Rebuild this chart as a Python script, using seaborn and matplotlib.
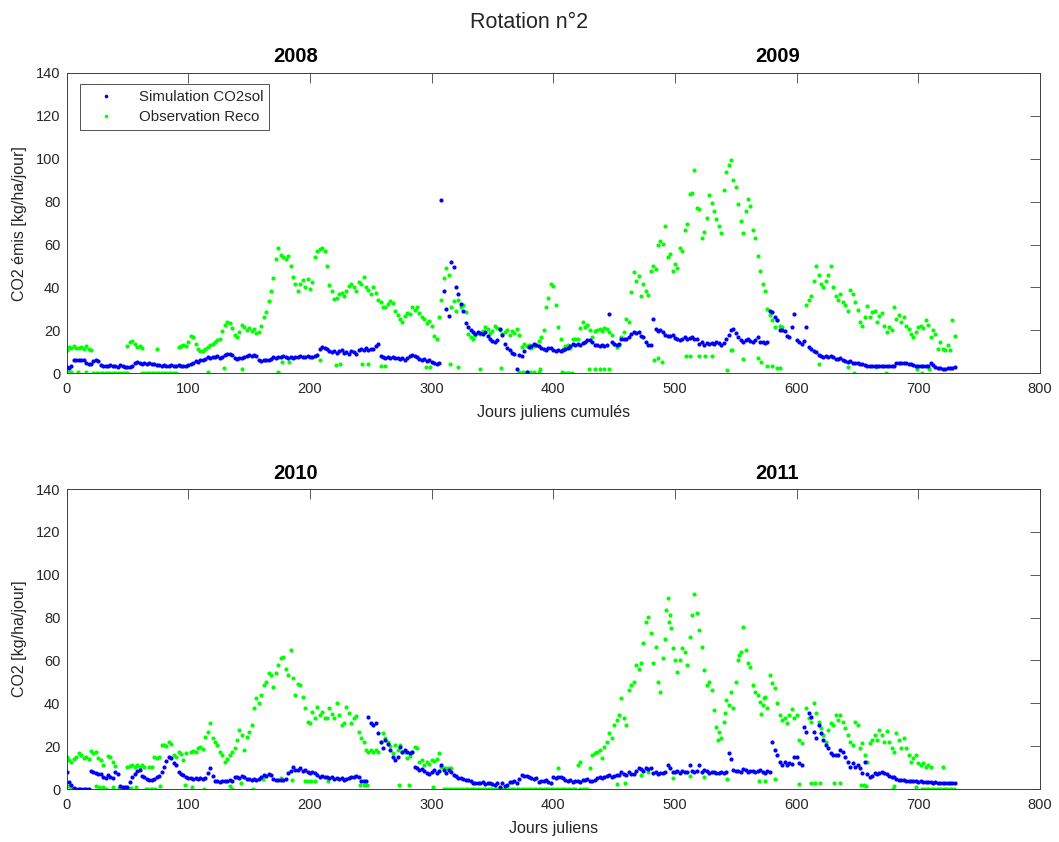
import numpy as np
import pandas as pd
import matplotlib
matplotlib.use("Agg")
import matplotlib.pyplot as plt
import seaborn as sns
from matplotlib.lines import Line2D

nan = np.nan

# ---------------------------------------------------------------------------
# Daily CO2 fluxes (kg/ha/jour), one value every 2 days from day 0 to day 730
# ---------------------------------------------------------------------------
sim_2008_2009 = [
    3.0, 2.5, 3.5, 6.2, 6.0, 6.4, 6.1, 6.3, 4.8, 4.2,
    4.5, 5.8, 6.2, 5.9, 3.8, 3.5, 3.2, 3.6, 3.9, 3.3,
    3.5, 3.0, 3.8, 3.2, 2.8, 3.1, 3.0, 3.4, 4.8, 5.2,
    5.0, 4.2, 4.6, 4.4, 4.8, 4.1, 4.5, 3.9, 3.7, 3.5,
    3.8, 3.4, 3.6, 4.0, 3.5, 3.3, 3.8, 3.6, 3.2, 3.5,
    3.7, 4.2, 4.8, 5.5, 5.2, 6.0, 6.4, 6.8, 7.5, 7.2,
    7.8, 7.4, 8.0, 7.2, 7.6, 8.4, 8.9, 9.1, 8.6, 7.0,
    6.8, 7.3, 6.9, 7.5, 8.2, 8.5, 8.0, 8.4, 8.1, 6.2,
    5.8, 6.1, 6.4, 6.0, 6.8, 7.6, 7.2, 7.8, 7.4, 7.9,
    7.5, 7.2, 7.8, 7.0, 7.6, 7.4, 8.0, 7.5, 7.8, 8.2,
    7.8, 7.5, 8.2, 8.6, 11.2, 12.3, 12.0, 11.5, 10.2, 9.8,
    10.4, 9.6, 10.2, 10.8, 9.5, 10.0, 9.2, 10.6, 9.8, 8.8,
    10.8, 11.4, 10.9, 11.6, 10.7, 11.5, 11.2, 12.6, 13.8, 8.2,
    7.6, 7.2, 7.8, 7.0, 7.4, 6.9, 7.2, 6.6, 7.0, 6.4,
    7.2, 8.0, 8.4, 8.1, 7.5, 6.8, 6.2, 6.6, 5.8, 6.3,
    5.4, 4.8, 4.3, 5.0, 80.7, 38.5, 30.0, 26.5, 52.0, 49.5,
    40.0, 37.0, 32.5, 29.0, 23.5, 21.5, 20.0, 19.0, 18.5, 19.2,
    18.8, 18.2, 19.0, 17.6, 16.0, 15.2, 14.6, 15.4, 20.7, 18.0,
    13.8, 12.0, 10.7, 9.6, 8.8, 2.0, 8.3, 8.0, 10.5, 0.6,
    12.2, 12.8, 13.8, 13.2, 12.6, 11.8, 11.4, 11.0, 11.6, 12.0,
    10.7, 10.5, 11.0, 10.2, 10.8, 11.2, 12.0, 12.6, 13.5, 13.0,
    13.8, 13.2, 14.0, 14.8, 15.3, 15.6, 14.8, 13.2, 13.0, 12.8,
    13.4, 12.9, 13.2, 27.5, 14.5, 13.8, 13.0, 13.6, 15.8, 16.2,
    16.0, 16.8, 18.2, 19.0, 18.6, 19.2, 17.4, 16.8, 14.5, 13.2,
    13.0, 25.5, 20.5, 19.8, 20.2, 19.0, 18.0, 17.6, 17.2, 18.0,
    16.4, 16.0, 15.6, 16.2, 16.8, 15.8, 16.4, 17.0, 16.2, 15.8,
    13.8, 14.5, 13.2, 14.0, 13.6, 14.2, 13.8, 14.6, 14.0, 13.2,
    14.2, 16.0, 18.0, 20.2, 20.7, 18.8, 16.8, 15.6, 14.8, 15.3,
    15.8, 15.0, 14.6, 15.4, 17.0, 14.8, 14.5, 14.2, 14.6, 29.0,
    28.4, 26.0, 24.6, 20.2, 20.0, 19.6, 17.4, 16.8, 21.5, 27.7,
    15.3, 14.6, 13.8, 15.0, 21.5, 12.2, 11.4, 10.6, 10.0, 8.6,
    8.0, 7.8, 8.2, 7.6, 7.9, 7.4, 6.8, 6.5, 6.9, 6.2,
    5.6, 5.2, 5.5, 4.8, 4.6, 5.0, 4.4, 4.5, 4.0, 3.6,
    3.3, 3.2, 3.4, 3.3, 3.5, 3.4, 3.2, 3.3, 3.4, 3.2,
    3.5, 4.6, 4.8, 4.9, 4.7, 4.8, 4.5, 4.2, 3.8, 3.6,
    3.4, 3.2, 3.6, 3.3, 3.5, 4.8, 3.8, 3.0, 2.6, 2.4,
    2.2, 2.2, 2.3, 2.4, 2.6, 2.8,
]

obs_2008_2009 = [
    11.0, 12.4, 11.8, 12.6, 12.0, 11.6, 12.2, 11.4, 12.8, 11.2,
    10.8, nan, nan, nan, nan, nan, nan, nan, nan, nan,
    nan, nan, nan, nan, nan, 12.5, 14.8, 15.2, 13.6, 12.4,
    12.8, 12.0, nan, nan, nan, nan, nan, 11.2, nan, nan,
    nan, nan, nan, nan, nan, nan, 12.4, 12.8, 13.4, 12.6,
    14.6, 17.2, 16.8, 13.8, 11.4, 10.6, 10.2, 11.2, 12.4, 13.0,
    13.8, 14.6, 15.4, 16.2, 19.5, 22.6, 24.0, 23.2, 21.0, 17.8,
    17.0, 19.0, 22.4, 21.5, 20.2, 21.0, 19.6, 20.4, 18.8, 19.4,
    22.0, 26.0, 28.6, 33.8, 38.2, 44.6, 53.2, 58.5, 55.0, 54.0,
    53.2, 54.6, 50.2, 45.0, 41.6, 38.4, 41.8, 43.6, 40.2, 44.0,
    39.5, 42.5, 54.0, 57.2, 57.8, 58.6, 57.0, 50.0, 41.2, 38.2,
    34.6, 35.2, 36.8, 37.5, 36.2, 38.4, 40.6, 41.6, 40.0, 38.4,
    42.4, 41.8, 45.0, 40.2, 38.6, 36.8, 40.0, 37.2, 34.0, 33.2,
    31.0, 30.8, 32.4, 33.6, 32.8, 29.2, 27.0, 25.4, 24.0, 26.6,
    28.0, 27.4, 30.8, 29.6, 31.0, 28.2, 26.0, 25.4, 23.2, 24.4,
    22.0, 17.2, 15.8, 26.0, 34.2, 44.6, 49.0, 46.0, 30.8, 33.6,
    29.0, 34.2, 31.0, 32.0, 28.4, 18.4, 17.0, 16.0, 17.8, 18.6,
    18.4, 19.6, 21.5, 20.4, 18.6, 19.8, 22.2, 21.0, 20.0, 18.4,
    19.2, 20.0, 18.0, 19.6, 18.6, 20.4, 17.8, 12.2, 13.8, 12.6,
    13.4, 12.0, 12.8, 13.0, 15.2, 17.0, 20.0, 30.8, 35.0, 41.6,
    40.8, 32.0, 21.5, 16.0, 11.4, 12.8, 13.0, 11.6, 15.8, 16.2,
    16.0, 21.0, 23.8, 21.5, 22.4, 20.0, 17.0, 19.6, 20.2, 20.7,
    19.8, 21.0, 20.4, 19.2, 18.0, 13.8, 12.2, 13.0, 17.0, 19.4,
    25.3, 24.0, 37.7, 47.0, 43.0, 45.2, 36.0, 41.6, 38.5, 36.6,
    47.7, 50.0, 48.6, 60.0, 61.7, 60.4, 68.6, 54.0, 55.5, 47.7,
    51.0, 49.0, 58.6, 57.0, 67.0, 69.4, 83.6, 84.0, 94.6, 77.0,
    76.4, 63.0, 66.0, 72.5, 83.0, 79.4, 75.6, 72.0, 68.6, 65.5,
    85.6, 94.0, 97.0, 99.5, 90.0, 87.0, 78.7, 71.0, 65.5, 75.6,
    81.0, 78.0, 67.0, 63.0, 54.7, 47.7, 41.6, 38.5, 30.0, 27.0,
    24.6, 21.5, 25.0, 22.0, 21.5, nan, nan, nan, nan, nan,
    nan, nan, nan, nan, 32.0, 34.0, 36.0, 43.0, 50.0, 46.0,
    41.6, 40.0, 43.0, 46.0, 50.0, 40.0, 36.0, 34.0, 37.0, 33.0,
    32.0, 29.0, 39.0, 37.0, 33.0, 29.5, 23.8, 22.0, 26.0, 31.5,
    26.0, 28.4, 29.0, 23.8, 26.5, 28.0, 22.0, 19.0, 21.5, 20.0,
    30.8, 25.3, 27.0, 24.0, 26.0, 22.0, 20.7, 18.4, 17.0, 19.0,
    21.5, 22.0, 21.0, 25.0, 22.4, 17.0, 20.0, 18.4, 11.5, 14.5,
    11.5, 10.7, 13.0, 10.7, 24.6, 17.6,
]

# Observations lying off the main trend (day, value)
obs_isolated_2008_2009 = [
    (1, 0.6), (4, 0.6), (9, 0.6), (16, 0.6),
    (22, 0.2), (24, 0.2), (26, 0.2), (28, 0.2), (30, 0.2), (32, 0.2), (34, 0.2), (36, 0.2),
    (38, 0.2), (40, 0.2), (42, 0.2), (44, 0.2), (46, 0.2), (48, 0.2), (50, 0.2),
    (62, 0.2), (64, 0.2), (66, 0.2), (68, 0.2), (70, 0.2), (72, 0.2), (74, 0.2), (76, 0.2),
    (78, 0.2), (80, 0.2), (82, 0.2), (84, 0.2), (86, 0.2), (88, 0.2), (90, 0.2),
    (116, 0.6), (129, 2.5), (144, 1.9), (174, 0.6), (177, 5.3), (183, 5.3),
    (208, 6.0), (221, 3.7), (225, 4.2), (243, 4.5), (248, 4.5), (258, 3.2), (262, 3.2),
    (295, 2.9), (299, 2.9), (315, 4.2), (322, 2.9), (340, 2.2), (357, 2.5),
    (372, 0.6), (375, 0.6), (378, 0.6), (381, 0.6), (384, 0.6), (388, 0.6), (389, 1.8),
    (407, 0.5), (409, 0.3), (411, 0.3), (413, 0.3), (415, 0.3),
    (429, 2.0), (434, 2.0), (438, 2.0), (442, 2.0), (446, 2.0),
    (483, 6.0), (486, 7.2), (489, 5.2), (509, 8.0), (512, 8.0), (520, 8.0), (525, 8.0),
    (530, 8.0), (543, 1.4), (546, 10.7), (547, 10.7), (556, 6.6), (568, 7.2), (571, 5.2),
    (576, 3.4), (580, 3.4), (584, 2.6), (586, 2.5), (618, 4.5), (642, 2.9), (647, 0.3),
    (665, 2.9), (673, 0.3), (699, 1.8), (703, 0.3), (709, 2.2),
]

sim_2010_2011 = [
    8.0, 3.4, 1.8, 0.6, 0.1, 0.0, 0.1, 0.0, 0.0, 0.1,
    8.4, 8.0, 7.4, 7.0, 6.8, 5.6, 5.0, 6.5, 5.8, 5.0,
    8.0, 7.0, 1.2, 1.0, 1.1, 0.9, 3.4, 5.5, 6.8, 8.6,
    8.9, 6.0, 5.7, 4.6, 4.2, 4.0, 4.8, 5.6, 6.0, 8.0,
    10.4, 13.2, 15.0, 14.3, 12.0, 11.0, 8.0, 7.0, 6.5, 5.7,
    5.2, 5.0, 4.8, 5.2, 4.6, 5.0, 4.7, 5.3, 7.3, 9.6,
    6.0, 3.8, 3.7, 3.5, 3.8, 3.6, 3.9, 4.2, 3.8, 5.4,
    5.7, 5.2, 6.0, 5.6, 4.8, 4.5, 4.3, 4.6, 4.2, 4.5,
    5.6, 6.5, 6.2, 6.8, 6.4, 4.6, 4.2, 4.0, 4.4, 4.2,
    4.6, 7.3, 8.6, 10.4, 9.0, 8.9, 9.6, 8.4, 9.0, 8.0,
    7.6, 8.0, 7.3, 6.5, 5.8, 6.2, 5.7, 5.4, 5.0, 5.6,
    4.8, 5.2, 4.6, 5.0, 4.4, 4.7, 5.2, 5.7, 5.4, 6.0,
    5.4, 3.8, 3.6, 3.7, 33.7, 30.6, 29.8, 30.8, 26.0, 22.0,
    19.0, 22.8, 21.0, 18.0, 15.0, 13.5, 15.0, 19.7, 17.4, 18.2,
    17.4, 16.6, 17.4, 10.4, 9.6, 8.9, 9.4, 8.6, 7.3, 7.0,
    7.8, 8.9, 7.6, 8.4, 11.2, 9.0, 7.3, 8.9, 7.8, 6.5,
    6.2, 5.3, 5.0, 4.6, 4.2, 4.4, 3.6, 3.0, 2.6, 2.8,
    2.6, 3.2, 2.4, 2.8, 3.0, 2.5, 1.9, 2.6, 1.1, 3.0,
    1.6, 2.0, 3.4, 3.2, 3.6, 3.0, 4.8, 6.5, 6.0, 6.2,
    5.4, 5.0, 4.6, 5.0, 3.4, 3.8, 3.6, 4.2, 3.4, 3.0,
    5.7, 5.0, 5.4, 5.7, 5.0, 4.2, 3.8, 4.0, 3.4, 3.6,
    3.8, 3.4, 4.0, 4.2, 4.8, 3.6, 3.8, 4.4, 5.0, 5.4,
    5.0, 5.8, 6.2, 6.5, 5.8, 6.0, 6.4, 6.5, 8.0, 7.0,
    6.5, 8.0, 7.2, 6.8, 8.4, 9.6, 9.2, 8.6, 9.8, 9.4,
    9.6, 7.3, 7.8, 7.0, 7.5, 7.3, 8.0, 11.2, 10.0, 8.0,
    8.0, 8.4, 7.6, 8.2, 7.8, 8.0, 11.2, 8.5, 8.0, 8.6,
    11.2, 8.0, 9.0, 8.2, 7.3, 8.0, 7.8, 7.3, 7.6, 8.0,
    7.3, 7.8, 16.6, 14.0, 8.9, 8.2, 8.6, 8.0, 9.2, 8.9,
    8.0, 8.6, 8.2, 7.8, 8.5, 8.9, 8.0, 7.6, 8.4, 8.0,
    22.0, 18.2, 15.9, 12.7, 11.2, 12.7, 11.2, 12.0, 11.6, 15.0,
    15.0, 12.0, 11.2, 29.0, 26.7, 35.3, 33.7, 26.7, 23.6, 29.8,
    26.0, 22.8, 20.5, 19.0, 16.6, 15.9, 16.0, 15.9, 18.2, 17.4,
    15.0, 12.7, 10.4, 12.0, 10.4, 11.0, 10.0, 7.3, 12.7, 7.0,
    5.7, 6.0, 7.3, 6.8, 7.3, 8.0, 7.6, 7.0, 6.0, 5.7,
    5.4, 4.8, 4.2, 4.4, 4.0, 3.7, 3.8, 3.6, 3.7, 3.8,
    3.4, 3.6, 3.4, 3.2, 3.4, 3.3, 3.0, 3.2, 2.8, 2.6,
    2.6, 3.0, 2.8, 3.0, 2.8, 2.6,
]

obs_2010_2011 = [
    15.0, 13.5, 12.7, 13.8, 15.0, 16.6, 16.0, 14.3, 14.8, 13.8,
    17.9, 16.8, 17.4, 14.3, 13.6, 11.2, nan, 15.5, 15.0, 12.7,
    10.9, nan, nan, nan, nan, 10.4, 10.8, 11.2, 10.4, 11.0,
    10.4, 11.2, 10.4, nan, 10.4, 10.4, 15.0, 14.6, 15.0, 20.5,
    20.5, 20.0, 22.0, 21.2, 15.9, 15.0, 17.4, 16.4, 13.5, 17.0,
    nan, 17.4, 17.8, 17.4, 19.0, 19.6, 18.6, 24.4, 26.7, 30.6,
    23.6, 22.0, 20.5, 17.4, 16.0, 12.7, 13.8, 15.9, 17.4, 19.0,
    22.8, 27.5, 25.0, 18.0, 24.4, 26.7, 30.0, 37.6, 42.3, 40.0,
    44.0, 48.5, 50.0, 54.0, 53.0, 47.7, 54.0, 58.0, 61.0, 61.7,
    56.0, 53.0, 64.8, 52.0, 43.8, 49.0, 48.5, 43.0, 37.6, 31.4,
    30.6, 36.0, 33.0, 38.4, 34.5, 36.0, 33.0, 33.0, 37.6, 35.2,
    33.0, 40.0, 34.5, 29.8, 31.0, 38.4, 35.3, 30.6, 33.0, 34.0,
    26.7, 23.6, 22.0, 18.2, 17.4, 18.2, 17.4, 18.0, 17.4, 22.0,
    26.0, 23.6, 22.0, 20.0, 16.6, 20.5, 18.0, 20.5, 17.4, 17.4,
    14.3, 15.6, 17.4, 19.7, 19.0, 12.7, 13.6, 11.2, 12.4, 11.8,
    13.5, 13.0, 14.0, 16.6, 10.4, 9.6, 10.0, 9.6, 9.8, nan,
    0.0, 0.0, 0.0, 0.0, 0.0, 0.0, 0.0, 0.0, 0.0, 0.0,
    0.0, 0.0, 0.0, 0.0, 0.0, 0.0, 0.0, 0.0, 0.0, 0.0,
    0.0, 0.0, 0.0, 0.0, 0.0, 0.0, 0.0, 0.0, 0.0, 0.0,
    0.0, 0.0, 0.0, 0.0, 0.0, 0.0, 0.0, 0.0, 0.0, 0.0,
    0.0, 0.0, 0.0, 0.0, 0.0, 0.0, 0.0, 0.0, 0.0, 0.0,
    11.2, 0.2, 0.2, 0.2, 0.2, 9.6, 15.9, 16.6, 17.4, 18.2,
    14.3, 19.7, 22.0, 26.0, 24.0, 29.8, 32.0, 34.5, 42.3, 33.0,
    29.8, 46.0, 48.5, 50.0, 57.8, 56.0, 59.0, 68.0, 78.0, 80.3,
    72.6, 59.0, 66.4, 50.0, 45.4, 61.0, 70.0, 89.0, 81.0, 65.6,
    60.0, 54.7, 60.0, 65.6, 64.0, 57.8, 71.0, 81.0, 91.0, 82.0,
    74.0, 66.4, 55.5, 48.5, 50.0, 46.0, 36.8, 29.0, 26.7, 23.6,
    31.4, 41.5, 39.0, 45.4, 37.6, 50.0, 60.0, 64.0, 75.7, 64.8,
    59.0, 57.0, 48.5, 45.4, 43.8, 40.7, 39.0, 43.0, 37.6, 53.0,
    49.3, 47.0, 40.0, 34.5, 32.0, 33.0, 30.6, 34.5, 37.3, 33.0,
    34.5, 22.8, 21.3, nan, 37.6, 33.0, 31.4, 40.0, 35.3, 31.4,
    28.3, 25.2, 22.0, 27.5, 30.6, 29.8, 34.5, 32.0, 34.5, 31.4,
    28.3, 25.2, 22.0, 20.5, 31.4, 29.8, 19.0, 21.3, 15.9, 12.7,
    21.3, 22.8, 25.2, 22.8, 27.5, 25.2, 22.0, 27.0, 22.0, 19.0,
    17.4, 26.0, 22.8, 19.0, 24.0, 19.0, 15.9, 12.7, 14.5, 15.9,
    12.0, 11.2, 12.0, 10.4, 11.2, 10.4, nan, nan, nan, nan,
    10.4, nan, nan, nan, nan, nan,
]

obs_isolated_2010_2011 = [
    (2, 1.2), (4, 0.3), (7, 0.0), (10, 0.0), (24, 1.4), (27, 1.1), (30, 1.1), (32, 0.0),
    (38, 1.1), (43, 0.3), (45, 0.0), (47, 0.0), (49, 0.0), (51, 0.0), (53, 0.3), (57, 1.1),
    (65, 0.0), (67, 0.0), (69, 0.0), (71, 0.0), (73, 0.0), (77, 1.4), (97, 1.9), (103, 1.1),
    (113, 0.0), (134, 1.4), (136, 0.0), (143, 2.6), (153, 0.0), (161, 4.5), (176, 5.0),
    (185, 4.2), (196, 3.7), (198, 3.9), (201, 3.7), (204, 3.7), (215, 3.7), (241, 2.0),
    (244, 1.9), (247, 1.9), (273, 1.9), (281, 1.9), (301, 1.1), (310, 0.0), (312, 0.0),
    (314, 0.0), (316, 0.0), (318, 0.0), (404, 9.6), (422, 12.7), (452, 2.2), (459, 2.9),
    (472, 6.5), (478, 8.0), (493, 83.4), (495, 78.0), (497, 75.0), (498, 5.3), (512, 6.2),
    (524, 5.7), (535, 22.8), (541, 35.3), (543, 4.5), (553, 62.5), (569, 3.7), (571, 34.8),
    (573, 42.3), (574, 3.7), (582, 4.5), (602, 2.2), (612, 2.8), (615, 2.8), (619, 2.8),
    (631, 2.8), (636, 2.8), (653, 1.9), (655, 1.9), (657, 1.6), (679, 0.0), (680, 1.4),
    (698, 1.1), (703, 0.0), (705, 0.0), (707, 0.0), (709, 0.0), (711, 0.0), (713, 0.0),
    (715, 0.0), (717, 0.0), (719, 0.0), (721, 0.0), (723, 0.0), (725, 0.0), (727, 0.0),
    (729, 0.0),
]

years_top = ["2008", "2009"]
years_bottom = ["2010", "2011"]
x_ticks = [0, 100, 200, 300, 400, 500, 600, 700, 800]
y_ticks = [0, 20, 40, 60, 80, 100, 120, 140]
label_sim = "Simulation CO2sol"
label_obs = "Observation Reco"

BLUE = "#0000ff"
GREEN = "#00ff00"
AXIS_COLOR = "#404040"
TEXT_COLOR = "#262626"

sns.set_theme(style="white")
plt.rcParams["font.family"] = ["Liberation Sans", "DejaVu Sans"]
plt.rcParams["text.color"] = TEXT_COLOR
plt.rcParams["axes.labelcolor"] = TEXT_COLOR


def build_frames(sim, obs, isolated):
    sim = np.asarray(sim, dtype=float)
    obs = np.asarray(obs, dtype=float)
    day = np.arange(sim.size) * 2
    sim_df = pd.DataFrame({"day": day, "value": sim})
    obs_day = np.arange(obs.size) * 2
    iso = np.asarray(isolated, dtype=float)
    obs_df = pd.DataFrame({
        "day": np.concatenate([obs_day, iso[:, 0]]),
        "value": np.concatenate([obs, iso[:, 1]]),
    }).dropna()
    return sim_df, obs_df


def draw_panel(ax, sim, obs, isolated, years, xlabel, ylabel):
    sim_df, obs_df = build_frames(sim, obs, isolated)
    sns.scatterplot(data=sim_df, x="day", y="value", color=BLUE, s=9,
                    linewidth=0, ax=ax, legend=False, zorder=3)
    sns.scatterplot(data=obs_df, x="day", y="value", color=GREEN, s=9,
                    linewidth=0, ax=ax, legend=False, zorder=2)
    ax.set_xlim(0, 800)
    ax.set_ylim(0, 140)
    ax.set_xticks(x_ticks)
    ax.set_yticks(y_ticks)
    ax.tick_params(axis="both", direction="in", length=7, width=0.6,
                   color=AXIS_COLOR, labelcolor=TEXT_COLOR, labelsize=10.5,
                   top=True, right=True)
    ax.tick_params(axis="x", pad=6.5)
    ax.tick_params(axis="y", pad=4.5)
    for sp in ax.spines.values():
        sp.set_visible(True)
        sp.set_color(AXIS_COLOR)
        sp.set_linewidth(0.7)
    ax.set_xlabel(xlabel, fontsize=11.5)
    ax.set_ylabel(ylabel, fontsize=11.5)
    ax.xaxis.set_label_coords(0.5, -0.13)
    ax.xaxis.label.set_va("center")
    ax.yaxis.set_label_coords(-0.048, 0.5)
    ax.yaxis.label.set_va("center")
    for xpos, yr in zip([188, 584], years):
        ax.text(xpos, 1.053, yr, transform=ax.get_xaxis_transform(),
                ha="center", va="center", fontsize=14.5, fontweight="bold",
                color="black")


fig = plt.figure(figsize=(10.59, 8.42), dpi=100)
ax_top = fig.add_axes([0.0629, 0.5567, 0.9192, 0.3567])
ax_bot = fig.add_axes([0.0629, 0.0629, 0.9192, 0.3563])

draw_panel(ax_top, sim_2008_2009, obs_2008_2009, obs_isolated_2008_2009,
           years_top, "Jours juliens cumulés", "CO2 émis [kg/ha/jour]")
draw_panel(ax_bot, sim_2010_2011, obs_2010_2011, obs_isolated_2010_2011,
           years_bottom, "Jours juliens", "CO2 [kg/ha/jour]")

handles = [
    Line2D([], [], linestyle="none", marker="o", markersize=2.6,
           markerfacecolor=BLUE, markeredgewidth=0, label=label_sim),
    Line2D([], [], linestyle="none", marker="o", markersize=2.6,
           markerfacecolor=GREEN, markeredgewidth=0, label=label_obs),
]
leg = ax_top.legend(handles=handles, loc="upper left",
                    bbox_to_anchor=(0.0138, 0.963), borderaxespad=0,
                    fontsize=10.8, frameon=True, fancybox=False,
                    handlelength=2.6, handletextpad=0.9, borderpad=0.4,
                    labelspacing=0.4)
leg.get_frame().set_edgecolor(TEXT_COLOR)
leg.get_frame().set_linewidth(0.7)

fig.text(0.5, 1 - 22 / 842, "Rotation n°2", ha="center", va="center",
         fontsize=15.5, color=TEXT_COLOR)

fig.savefig("out.png", dpi=100, facecolor="white")
